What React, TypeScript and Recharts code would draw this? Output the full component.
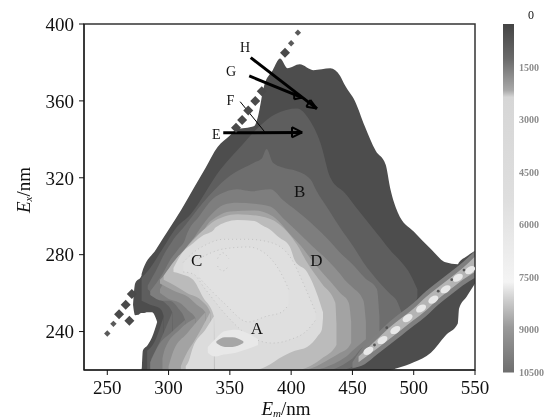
import {
  Area,
  Bar,
  ComposedChart,
  Label,
  ReferenceArea,
  ReferenceDot,
  ReferenceLine,
  Scatter,
  XAxis,
  YAxis,
} from "recharts";

// contour bands, each point is [Em, Ex low, Ex high]
type Band = number[][];

const emTicks = [250, 300, 350, 400, 450, 500, 550];
const exTicks = [240, 280, 320, 360, 400];
const scaleTicks = [0, 1500, 3000, 4500, 6000, 7500, 9000, 10500];

const outer: Band = [
  [271, 254, 254], [272.7, 248.5, 265], [277.9, 249, 269], [278, 220, 270], [290, 220, 283],
  [300, 220, 293], [310, 220, 303], [320, 220, 314], [330, 220, 325], [340, 220, 336],
  [350, 220, 342], [355, 220, 345], [370, 220, 347], [373, 220, 352], [378, 220, 368],
  [385, 220, 376], [391, 220, 382], [397, 220, 377], [407, 220, 379], [418, 220, 376],
  [432, 220, 377], [440, 220, 373], [444, 220, 368], [452, 220, 360], [460, 220, 347],
  [469, 220, 334], [477, 220, 327], [481, 220, 314], [487, 221, 302], [500, 224, 292],
  [514, 229, 283], [526, 238, 276], [535.9, 244, 275], [537, 252, 276], [543, 258, 279],
  [550, 265, 282],
];
const notch: Band = [[276, 219, 249], [278, 221, 249.6], [279, 230, 249.6], [283, 233, 250], [286.5, 237, 250], [290.7, 245, 245]];

const level2: Band = [
  [278, 256, 268], [285, 254, 273], [293, 252, 281], [296, 248, 284], [296.5, 220, 284.5],
  [305, 220, 293], [318, 220, 301], [342, 220, 324], [360, 220, 337], [373, 220, 346],
  [387, 220, 353], [405, 220, 356], [414, 220, 351], [424, 220, 338], [432, 220, 320],
  [444, 220, 312], [455, 222, 303], [470, 230, 291], [475, 233, 287], [480, 237, 283],
  [490, 243, 276], [497, 248, 270], [503, 258, 262],
];
const lobe2: Band = [[282.5, 220, 230], [288, 220, 234], [296, 220, 248]];

const level3: Band = [
  [283, 262, 264], [290, 258, 272], [297, 255, 281], [303, 250, 287], [304, 220, 288],
  [312, 220, 294], [328, 220, 307], [348, 220, 320], [370, 220, 328], [376, 220, 330],
  [380, 220, 335], [385, 220, 328], [395, 220, 325], [402, 220, 324], [416, 220, 319],
  [420, 220, 314], [432, 220, 302], [440, 220, 294], [451, 222, 284], [460, 226, 275],
  [470, 232, 267], [480, 239, 260], [487, 245, 255], [490, 247, 250],
];
const lobe3: Band = [[286, 220, 226], [293, 220, 235], [303, 220, 250]];

const level4: Band = [
  [285, 259, 261], [295, 256, 270], [301, 256, 277], [308, 252, 283], [313.5, 246, 288],
  [314, 220, 289], [325, 220, 300], [336, 220, 309], [346, 220, 312.6], [356, 220, 314],
  [367, 220, 313], [383, 220, 314], [394, 220, 308], [410, 220, 300], [430, 220, 288],
  [440, 222, 281], [450, 226, 275], [460, 232, 268], [470, 232, 262], [472, 238, 248],
];
const lobe4: Band = [[285, 220, 224], [291, 220, 232], [303, 220, 240], [313.5, 220, 246]];

const level5: Band = [
  [293, 260, 262], [300, 257, 270], [309, 255, 279], [316, 251, 285], [322, 247, 290],
  [323, 220, 291], [335, 220, 301], [345, 220, 306], [356, 220, 307], [370, 220, 306.5],
  [383, 220, 305], [395, 220, 298], [405, 220, 292], [418, 220, 284], [430, 222, 277],
  [440, 225, 270], [445, 227, 266], [450, 230, 263], [459, 235, 256], [461, 236, 245],
];
const lobe5: Band = [[295, 220, 226], [297, 220, 231], [309, 220, 241], [322, 220, 247]];

const level6: Band = [
  [293, 265, 267], [305, 261, 275], [316, 258, 285], [323, 254, 290], [330, 250, 294],
  [331, 220, 295], [340, 220, 300], [350, 220, 302.5], [370, 220, 303], [385, 220, 300],
  [400, 220, 290], [410, 220, 283], [417, 221, 277], [432, 226, 266], [440, 229, 260],
  [447, 232, 255], [449, 234, 245],
];
const lobe6: Band = [[300, 220, 222], [304, 220, 230], [315, 220, 239], [330, 220, 250]];

const level7: Band = [
  [296, 267, 269], [305, 264, 277], [315, 260, 284], [327, 256, 292], [334, 250, 296],
  [335, 220, 296.5], [356, 220, 301], [375, 220, 300], [390, 220, 296], [405, 220, 285],
  [412, 221, 277], [425, 226, 265], [436, 232, 255], [437, 233, 244],
];
const lobe7: Band = [[310, 220, 222], [315, 220, 229], [320, 220, 234], [334, 220, 250]];

const plateau: Band = [
  [304, 271, 273], [310, 270, 280], [320, 267, 286], [328, 258, 290], [337, 248, 293],
  [338, 220, 294], [356, 220, 298], [370, 220, 297.5], [377, 221, 295], [383, 223, 293],
  [390, 226, 289], [399, 229, 284], [403, 230, 277], [413, 232, 271], [422, 238, 258],
  [425, 241, 252], [426, 247, 250],
];
const plateauLobe: Band = [[314, 220, 222], [316, 220, 224], [320, 220, 232], [330, 220, 241], [337, 220, 248]];

// dotted inner contours on the plateau
const ringOuter: Band = [
  [312, 271, 276], [320, 270, 281], [330, 262, 285], [345, 250, 288], [365, 238, 288],
  [385, 234, 286], [400, 236, 278], [412, 240, 262], [420, 246, 250],
];
const ringInner: Band = [
  [325, 268, 278], [345, 255, 283], [365, 245, 284], [380, 248, 280], [392, 250, 270], [398, 254, 262],
];
const ringC: Band = [[340, 274, 278], [344, 271.5, 281], [349, 274, 278]];

const spotGlow: Band = [[332, 229, 232], [338, 227, 236], [345, 228, 240], [355, 229, 241], [365, 231, 239], [373, 233, 236]];
const spotCore: Band = [[339, 234, 235], [346, 232, 237], [352, 232, 237], [361, 234, 235]];

const stripeEdge: Band = [
  [450, 221, 224], [460, 223, 233], [470, 228, 239], [480, 233, 245], [490, 238, 250], [500, 243, 255],
  [510, 248, 261], [520, 254, 266], [530, 259, 271], [540, 264, 276], [550, 268, 282],
];
const stripeCore: Band = [
  [455, 224, 227], [470, 231, 236], [480, 236, 242], [490, 241, 247], [500, 246, 252],
  [510, 251, 258], [520, 257, 263], [530, 262, 268], [540, 267, 273], [550, 271, 279],
];

const bands: { key: string; color: string; points: Band; dotted?: boolean }[] = [
  { key: "outer", color: "#4d4d4d", points: outer },
  { key: "notch", color: "#ffffff", points: notch },
  { key: "level2", color: "#5e5e5e", points: level2 },
  { key: "lobe2", color: "#5e5e5e", points: lobe2 },
  { key: "level3", color: "#6e6e6e", points: level3 },
  { key: "lobe3", color: "#6e6e6e", points: lobe3 },
  { key: "level4", color: "#7e7e7e", points: level4 },
  { key: "lobe4", color: "#7e7e7e", points: lobe4 },
  { key: "level5", color: "#8f8f8f", points: level5 },
  { key: "lobe5", color: "#8f8f8f", points: lobe5 },
  { key: "level6", color: "#a3a3a3", points: level6 },
  { key: "lobe6", color: "#a3a3a3", points: lobe6 },
  { key: "level7", color: "#bbbbbb", points: level7 },
  { key: "lobe7", color: "#bbbbbb", points: lobe7 },
  { key: "plateau", color: "#dcdcdc", points: plateau },
  { key: "plateauLobe", color: "#dcdcdc", points: plateauLobe },
  { key: "ringOuter", color: "#dfdfdf", points: ringOuter, dotted: true },
  { key: "ringInner", color: "#e1e1e1", points: ringInner, dotted: true },
  { key: "ringC", color: "#e1e1e1", points: ringC, dotted: true },
  { key: "spotGlow", color: "#e8e8e8", points: spotGlow },
  { key: "spotCore", color: "#a6a6a6", points: spotCore },
  { key: "stripeEdge", color: "#7f7f7f", points: stripeEdge },
  { key: "stripeCore", color: "#b4b4b4", points: stripeCore },
];

const scatterSmall = [
  { em: 250, ex: 239 }, { em: 255, ex: 244 }, { em: 405.5, ex: 395.5 }, { em: 400, ex: 390 },
];
const scatterBig = [
  { em: 259.6, ex: 249 }, { em: 265, ex: 254 }, { em: 270, ex: 259.5 }, { em: 268, ex: 245.6 },
  { em: 395, ex: 385 }, { em: 376, ex: 365 }, { em: 370.7, ex: 360 }, { em: 365, ex: 355 },
  { em: 360, ex: 350 }, { em: 355, ex: 346 },
];
const stripeBlobs = [
  { em: 463, ex: 230 }, { em: 474.5, ex: 235.6 }, { em: 485, ex: 240.8 }, { em: 495, ex: 247 },
  { em: 506, ex: 252 }, { em: 516, ex: 256.6 }, { em: 526, ex: 262 }, { em: 536, ex: 268 }, { em: 546, ex: 272 },
];
const stripeSpecks = [
  { em: 520, ex: 261 }, { em: 531, ex: 267 }, { em: 541, ex: 272 }, { em: 478, ex: 242 }, { em: 468, ex: 233 },
];

// arrows: [Em from, Ex from, Em to, Ex to]
const thickArrows = [
  [344.6, 343.4, 409, 343.6],
  [365.8, 373, 409, 361.7],
  [367, 382.5, 421, 356],
];
const thinArrows = [[358.4, 359.6, 378.3, 344]];
const arrowHeads = [
  [409, 343.6, 400.7, 346.3], [400.7, 346.3, 400.7, 341], [400.7, 341, 409, 343.6],
  [409, 361.7, 402.5, 364.3], [402.5, 364.3, 402.5, 360.8], [402.5, 360.8, 409, 361.7],
  [421, 356, 415.6, 360.5], [415.6, 360.5, 412.4, 357], [412.4, 357, 421, 356],
];

const smallLetters = [
  { text: "H", em: 362.5, ex: 388 },
  { text: "G", em: 351, ex: 375.5 },
  { text: "F", em: 350.5, ex: 360.5 },
  { text: "E", em: 339, ex: 343 },
];
const bigLetters = [
  { text: "B", em: 407, ex: 313 },
  { text: "C", em: 323, ex: 277 },
  { text: "D", em: 420.5, ex: 277 },
  { text: "A", em: 372, ex: 242 },
];

const emValues = Array.from(new Set(bands.flatMap((b) => b.points.map((p) => p[0])))).sort((a, b) => a - b);
const rows = emValues.map((em) => {
  const row: Record<string, unknown> = { em };
  bands.forEach((b) => {
    const p = b.points.find((q) => q[0] === em);
    row[b.key] = p ? [p[1], p[2]] : null;
  });
  return row;
});

const scaleRows = [{ name: "scale", range: [257, 10200] }];

const serif = "'Liberation Serif', serif";

function AxisTitle({ name, sub, vertical, x, y }: { name: string; sub: string; vertical?: boolean; x: number; y: number }) {
  return (
    <text
      x={x}
      y={y}
      textAnchor="middle"
      fontFamily={serif}
      fontSize={19}
      fill="#111"
      transform={vertical ? `rotate(-90 ${x} ${y})` : undefined}
    >
      <tspan fontStyle="italic">{name}</tspan>
      <tspan fontStyle="italic" fontSize={11} dy={2}>
        {sub}
      </tspan>
      <tspan dy={-2}>/nm</tspan>
    </text>
  );
}

function ScaleTick({ x, y, payload }: { x: number; y: number; payload: { value: number } }) {
  if (payload.value === 0) {
    return (
      <text x={x + 3} y={y + 4} fontFamily={serif} fontSize={12} fill="#111">
        0
      </text>
    );
  }
  // the last label sits on the end of the bar, not on its own step
  const dy = payload.value === 10500 ? -10 : 0;
  return (
    <text x={x - 6} y={y + dy + 3} fontFamily={serif} fontSize={10} fontWeight="bold" fill="#8c8c8c" style={{ filter: "blur(0.6px)" }}>
      {payload.value}
    </text>
  );
}

function Diamond({ cx, cy, r, fill }: { cx?: number; cy?: number; r: number; fill: string }) {
  const x = cx ?? 0;
  const y = cy ?? 0;
  return <polygon points={`${x},${y - r} ${x + r},${y} ${x},${y + r} ${x - r},${y}`} fill={fill} />;
}

function Blob({ cx, cy }: { cx?: number; cy?: number }) {
  return <ellipse cx={cx} cy={cy} rx={5.5} ry={3.4} fill="#e8e8e8" transform={`rotate(-32 ${cx} ${cy})`} />;
}

export default function App() {
  return (
    <div style={{ position: "absolute", left: 0, top: 0, width: 544, height: 420, background: "#fff" }}>
      <div style={{ position: "absolute", left: 0, top: 0, filter: "blur(0.5px)" }}>
        <ComposedChart width={544} height={420} data={rows} margin={{ top: 24, right: 69, left: 0, bottom: 0 }}>
          <XAxis
            dataKey="em"
            type="number"
            domain={[231, 550]}
            ticks={emTicks}
            interval={0}
            height={50}
            tickSize={5}
            tickMargin={6}
            stroke="#111"
            tick={{ fontFamily: serif, fontSize: 19, fill: "#111" }}
            allowDataOverflow
          >
            <Label content={() => <AxisTitle name="E" sub="m" x={286} y={415} />} />
          </XAxis>
          <YAxis
            type="number"
            domain={[220, 400]}
            ticks={exTicks}
            interval={0}
            width={84}
            tickSize={5}
            tickMargin={5}
            stroke="#111"
            tick={{ fontFamily: serif, fontSize: 19, fill: "#111" }}
            allowDataOverflow
          >
            <Label content={() => <AxisTitle name="E" sub="x" vertical x={30} y={190} />} />
          </YAxis>

          {bands.map((b) => (
            <Area
              key={b.key}
              dataKey={b.key}
              type="monotone"
              connectNulls
              fill={b.color}
              fillOpacity={1}
              stroke={b.dotted ? "#c2c2c2" : "none"}
              strokeDasharray={b.dotted ? "1 3" : undefined}
              dot={false}
              activeDot={false}
              isAnimationActive={false}
            />
          ))}

          <Scatter
            data={scatterBig}
            dataKey="ex"
            fill="#4a4a4a"
            isAnimationActive={false}
            shape={(p: { cx?: number; cy?: number }) => <Diamond cx={p.cx} cy={p.cy} r={5} fill="#4a4a4a" />}
          />
          <Scatter
            data={scatterSmall}
            dataKey="ex"
            fill="#5a5a5a"
            isAnimationActive={false}
            shape={(p: { cx?: number; cy?: number }) => <Diamond cx={p.cx} cy={p.cy} r={3.2} fill="#5a5a5a" />}
          />
          <Scatter
            data={stripeBlobs}
            dataKey="ex"
            fill="#e8e8e8"
            isAnimationActive={false}
            shape={(p: { cx?: number; cy?: number }) => <Blob cx={p.cx} cy={p.cy} />}
          />
          <Scatter
            data={stripeSpecks}
            dataKey="ex"
            fill="#555555"
            isAnimationActive={false}
            shape={(p: { cx?: number; cy?: number }) => <circle cx={p.cx} cy={p.cy} r={1.4} fill="#555555" />}
          />

          {thickArrows.map((a, i) => (
            <ReferenceLine key={`t${i}`} segment={[{ x: a[0], y: a[1] }, { x: a[2], y: a[3] }]} stroke="#000" strokeWidth={3} ifOverflow="visible" />
          ))}
          {thinArrows.map((a, i) => (
            <ReferenceLine key={`f${i}`} segment={[{ x: a[0], y: a[1] }, { x: a[2], y: a[3] }]} stroke="#000" strokeWidth={1} ifOverflow="visible" />
          ))}
          {arrowHeads.map((a, i) => (
            <ReferenceLine key={`h${i}`} segment={[{ x: a[0], y: a[1] }, { x: a[2], y: a[3] }]} stroke="#000" strokeWidth={2} ifOverflow="visible" />
          ))}

          {smallLetters.map((l) => (
            <ReferenceDot
              key={l.text}
              x={l.em}
              y={l.ex}
              r={0}
              stroke="none"
              label={{ value: l.text, position: "center", fontFamily: serif, fontSize: 14, fill: "#111" }}
            />
          ))}
          {bigLetters.map((l) => (
            <ReferenceDot
              key={l.text}
              x={l.em}
              y={l.ex}
              r={0}
              stroke="none"
              label={{ value: l.text, position: "center", fontFamily: serif, fontSize: 17, fill: "#111" }}
            />
          ))}

          <ReferenceArea x1={231} x2={550} y1={220} y2={400} fill="none" stroke="#333" strokeWidth={1.5} ifOverflow="visible" />
        </ComposedChart>
      </div>

      <div style={{ position: "absolute", left: 490, top: 0, filter: "blur(0.5px)" }}>
        <ComposedChart width={54} height={420} data={scaleRows} margin={{ top: 15, right: 0, left: 9, bottom: 37 }}>
          <defs>
            <linearGradient id="scaleFill" x1="0" y1="0" x2="0" y2="1">
              <stop offset="0" stopColor="#444444" />
              <stop offset="0.1" stopColor="#6a6a6a" />
              <stop offset="0.19" stopColor="#a8a8a8" />
              <stop offset="0.21" stopColor="#d6d6d6" />
              <stop offset="0.5" stopColor="#dedede" />
              <stop offset="0.74" stopColor="#f4f4f4" />
              <stop offset="0.79" stopColor="#cfcfcf" />
              <stop offset="0.87" stopColor="#9a9a9a" />
              <stop offset="1" stopColor="#6e6e6e" />
            </linearGradient>
          </defs>
          <XAxis dataKey="name" type="category" hide />
          <YAxis
            orientation="right"
            type="number"
            reversed
            domain={[0, 10500]}
            ticks={scaleTicks}
            interval={0}
            width={26}
            axisLine={false}
            tickLine={false}
            tickMargin={1}
            tick={ScaleTick as never}
          />
          <Bar dataKey="range" barSize={11} fill="url(#scaleFill)" isAnimationActive={false} />
        </ComposedChart>
      </div>
    </div>
  );
}
